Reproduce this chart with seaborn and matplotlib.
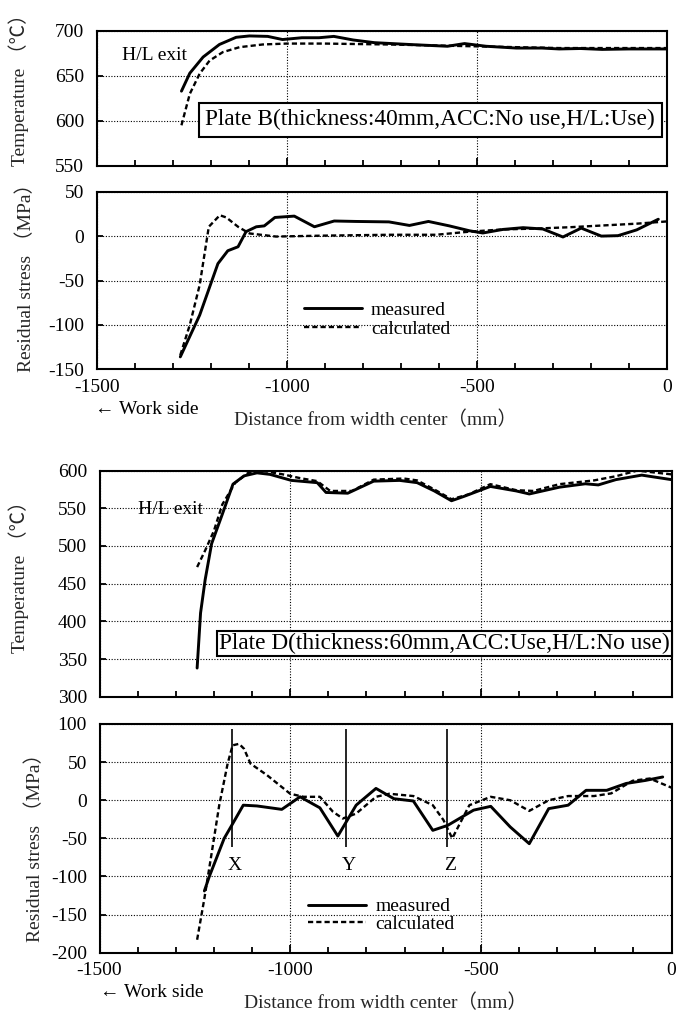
import numpy as np
import pandas as pd
import matplotlib
matplotlib.use("Agg")
import matplotlib.pyplot as plt
import seaborn as sns
from matplotlib.ticker import MultipleLocator, FixedLocator

# ---------------- data ----------------
# Plate B temperature (H/L exit)
tB_meas_x = [-1277, -1255, -1220, -1177, -1133, -1098, -1050, -1011, -960, -915, -876, -825,
             -769, -678, -577, -532, -475, -396, -328, -283, -227, -170, -100, 0]
tB_meas_y = [633, 653, 671, 685, 693, 694.5, 694, 690.5, 692.5, 692.5, 694, 690,
             687, 685, 683, 686, 683, 681, 681, 680, 680.5, 679.5, 680, 680]
tB_calc_x = [-1277, -1255, -1229, -1203, -1168, -1124, -1063, -1000, -900, -735, -510, -283, 0]
tB_calc_y = [595, 630, 652.5, 667, 676.5, 682, 685, 686, 686, 685, 683, 681, 681]

# Plate B residual stress
sB_meas_x = [-1280, -1229, -1181, -1155, -1128, -1107, -1080, -1059, -1031, -980, -927, -875,
             -818, -731, -677, -627, -572, -519, -484, -431, -378, -326, -273, -225, -172,
             -128, -79, -22]
sB_meas_y = [-136, -89, -31, -16.5, -12, 5, 10.5, 11.5, 21, 22.5, 10.5, 17,
             16.5, 16, 12, 16.5, 11.5, 6, 3.5, 7.5, 9.5, 8, -1, 9, 0,
             0.5, 7, 19]
sB_calc_x = [-1280, -1255, -1229, -1205, -1176, -1159, -1128, -1098, -1028, -906, -731, -607,
             -519, -431, -343, -255, -167, -79, 0]
sB_calc_y = [-134, -100, -55, 10.5, 23.5, 21, 10.5, 3, -0.5, 0.5, 1.5, 1.5,
             5, 7.5, 8.5, 10, 12, 14, 16.5]

# Plate D temperature
tD_meas_x = [-1244, -1235, -1223, -1206, -1178, -1150, -1121, -1087, -1053, -997, -929, -906,
             -849, -781, -713, -667, -622, -577, -543, -475, -407, -373, -294, -226, -192,
             -146, -78, 0]
tD_meas_y = [338, 411, 455, 503, 542, 582, 593, 597, 595, 587, 584, 571,
             570, 586, 587, 584, 573, 560, 566, 579, 573, 569, 578, 582.5, 581,
             588, 594, 588]
tD_calc_x = [-1244, -1223, -1200, -1178, -1144, -1110, -1076, -1019, -974, -929, -895, -838,
             -781, -702, -667, -622, -577, -532, -475, -407, -362, -294, -203, -146, -90, 0]
tD_calc_y = [472, 494, 520, 555, 584, 597, 600, 595, 590, 586, 573, 573,
             588, 589.5, 587, 575, 562, 568.5, 582, 574, 573, 582, 587, 592.5, 600, 595]

# Plate D residual stress
sD_meas_x = [-1225, -1212, -1173, -1151, -1123, -1087, -1022, -974, -922, -875, -827, -775,
             -728, -677, -626, -587, -519, -474, -423, -373, -322, -271, -224, -170, -119,
             -68, -23]
sD_meas_y = [-119, -100, -50, -31, -6.5, -7.5, -12, 4.5, -10, -47, -6.5, 15.5,
             2, -1, -39.5, -33, -13, -8, -35, -57, -11, -6.5, 13, 13, 22,
             26, 30.5]
sD_calc_x = [-1244, -1225, -1208, -1186, -1164, -1151, -1134, -1121, -1104, -1061, -1000, -965,
             -922, -888, -862, -827, -775, -740, -677, -626, -598, -575, -530, -474, -423,
             -373, -322, -271, -203, -158, -102, -57, 0]
sD_calc_y = [-183, -129, -76, -6.5, 48, 72, 74, 67.5, 48, 33, 8.5, 4.5,
             4.5, -15, -24, -17.5, 4.5, 8.5, 5.5, -6.5, -26, -50, -6.5, 4.5, 0,
             -14, 0, 5.5, 5.5, 9, 25.5, 28.5, 16.5]

# Section markers in plate D
section_x = [-1153, -854, -590]
section_labels = ["X", "Y", "Z"]

x_ticks = [-1500, -1000, -500, 0]
series_labels = ["measured", "calculated"]
title_B = "Plate B(thickness:40mm,ACC:No use,H/L:Use)"
title_D = "Plate D(thickness:60mm,ACC:Use,H/L:No use)"

# ---------------- style ----------------
sns.set_theme(style="ticks")
SERIF = ["Liberation Serif", "Noto Sans CJK JP", "DejaVu Serif"]
plt.rcParams["font.family"] = SERIF
plt.rcParams["axes.unicode_minus"] = False
plt.rcParams["axes.linewidth"] = 1.5
plt.rcParams["axes.edgecolor"] = "black"
plt.rcParams["text.color"] = "black"
plt.rcParams["xtick.color"] = "black"
plt.rcParams["ytick.color"] = "black"

FS = 14
BOX_FS = 16.8
W, H = 676, 1014
fig = plt.figure(figsize=(W / 100, H / 100), dpi=100)


def add_ax(left_px, right_px, top_px, bottom_px):
    return fig.add_axes([left_px / W, 1 - bottom_px / H,
                         (right_px - left_px) / W, (bottom_px - top_px) / H])


ax1 = add_ax(96.7, 666.7, 31.0, 165.7)
ax2 = add_ax(96.7, 666.7, 191.7, 369.3)
ax3 = add_ax(99.5, 671.5, 470.6, 696.7)
ax4 = add_ax(99.5, 671.5, 724.0, 952.7)

MEAS_KW = dict(color="black", linewidth=2.1, linestyle="-")
CALC_KW = dict(color="black", linewidth=1.7, linestyle=(0, (2.2, 1.3)))


def draw(ax, mx, my, cx, cy, label=False):
    d1 = pd.DataFrame({"x": mx, "y": my})
    d2 = pd.DataFrame({"x": cx, "y": cy})
    sns.lineplot(data=d1, x="x", y="y", ax=ax, estimator=None, sort=False,
                 label=series_labels[0] if label else None, **MEAS_KW)
    sns.lineplot(data=d2, x="x", y="y", ax=ax, estimator=None, sort=False,
                 label=series_labels[1] if label else None, **CALC_KW)


def style_ax(ax, ylim, ystep, show_xlabels):
    ax.set_xlim(-1500, 0)
    ax.set_ylim(*ylim)
    ax.xaxis.set_major_locator(FixedLocator(x_ticks))
    ax.xaxis.set_minor_locator(MultipleLocator(100))
    ax.yaxis.set_major_locator(MultipleLocator(ystep))
    ax.tick_params(axis="x", which="major", direction="in", length=6, width=1.3,
                   labelsize=FS, pad=7, top=False, bottom=True)
    ax.tick_params(axis="x", which="minor", direction="in", length=4, width=1.3,
                   top=False, bottom=True)
    ax.tick_params(axis="y", which="major", direction="in", length=4, width=1.3,
                   labelsize=FS, pad=9, right=False, left=True)
    if not show_xlabels:
        ax.tick_params(axis="x", which="major", labelbottom=False)
    ax.grid(True, which="major", axis="both", color="black", linestyle=(0, (1, 1.5)),
            linewidth=0.8)
    ax.set_axisbelow(True)
    for s in ax.spines.values():
        s.set_visible(True)
        s.set_linewidth(1.5)
    ax.set_xlabel("")
    ax.set_ylabel("")


# Panel 1: plate B temperature
draw(ax1, tB_meas_x, tB_meas_y, tB_calc_x, tB_calc_y)
style_ax(ax1, (550, 700), 50, False)
ax1.set_ylabel("Temperature （℃）", fontsize=FS)
ax1.yaxis.set_label_coords(-0.118, 0.60)
ax1.text(-1434, 673, "H/L exit", fontsize=FS, ha="left", va="center")
ax1.text(-622, 601, title_B, fontsize=BOX_FS, ha="center", va="center", zorder=5,
         bbox=dict(boxstyle="square,pad=0.28", fc="white", ec="black", lw=1.5))

# Panel 2: plate B residual stress
draw(ax2, sB_meas_x, sB_meas_y, sB_calc_x, sB_calc_y, label=True)
style_ax(ax2, (-150, 50), 50, True)
ax2.set_ylabel("Residual stress （MPa）", fontsize=FS)
ax2.yaxis.set_label_coords(-0.108, 0.54)
ax2.legend(loc="center left", bbox_to_anchor=(-955, -94), bbox_transform=ax2.transData,
           frameon=False, fontsize=FS, handlelength=3.0, handletextpad=0.45,
           labelspacing=0.05, borderpad=0, borderaxespad=0)
ax2.set_xlabel("Distance from width center（mm）", fontsize=FS)
ax2.xaxis.set_label_coords(0.49, -0.235)
ax2.text(-0.003, -0.229, "← Work side", transform=ax2.transAxes, fontsize=FS,
         ha="left", va="center")

# Panel 3: plate D temperature
draw(ax3, tD_meas_x, tD_meas_y, tD_calc_x, tD_calc_y)
style_ax(ax3, (300, 600), 50, False)
ax3.set_ylabel("Temperature （℃）", fontsize=FS)
ax3.yaxis.set_label_coords(-0.124, 0.55)
ax3.text(-1398, 549, "H/L exit", fontsize=FS, ha="left", va="center")
ax3.text(-595, 370.5, title_D, fontsize=BOX_FS, ha="center", va="center", zorder=5,
         bbox=dict(boxstyle="square,pad=0.1", fc="white", ec="black", lw=1.5),
         clip_on=False)

# Panel 4: plate D residual stress
draw(ax4, sD_meas_x, sD_meas_y, sD_calc_x, sD_calc_y, label=True)
style_ax(ax4, (-200, 100), 50, True)
ax4.set_ylabel("Residual stress （MPa）", fontsize=FS)
ax4.yaxis.set_label_coords(-0.097, 0.48)
ax4.vlines(section_x, -62, 93, colors="black", linewidth=1.2, zorder=4)
for sx, sl in zip(section_x, section_labels):
    ax4.text(sx + 8, -85, sl, fontsize=FS, ha="center", va="center")
ax4.legend(loc="center left", bbox_to_anchor=(-953, -151), bbox_transform=ax4.transData,
           frameon=False, fontsize=FS, handlelength=3.0, handletextpad=0.45,
           labelspacing=0.0, borderpad=0, borderaxespad=0)
ax4.set_xlabel("Distance from width center（mm）", fontsize=FS)
ax4.xaxis.set_label_coords(0.50, -0.18)
ax4.text(-0.0, -0.176, "← Work side", transform=ax4.transAxes, fontsize=FS,
         ha="left", va="center")

fig.savefig("out.png", dpi=100)
